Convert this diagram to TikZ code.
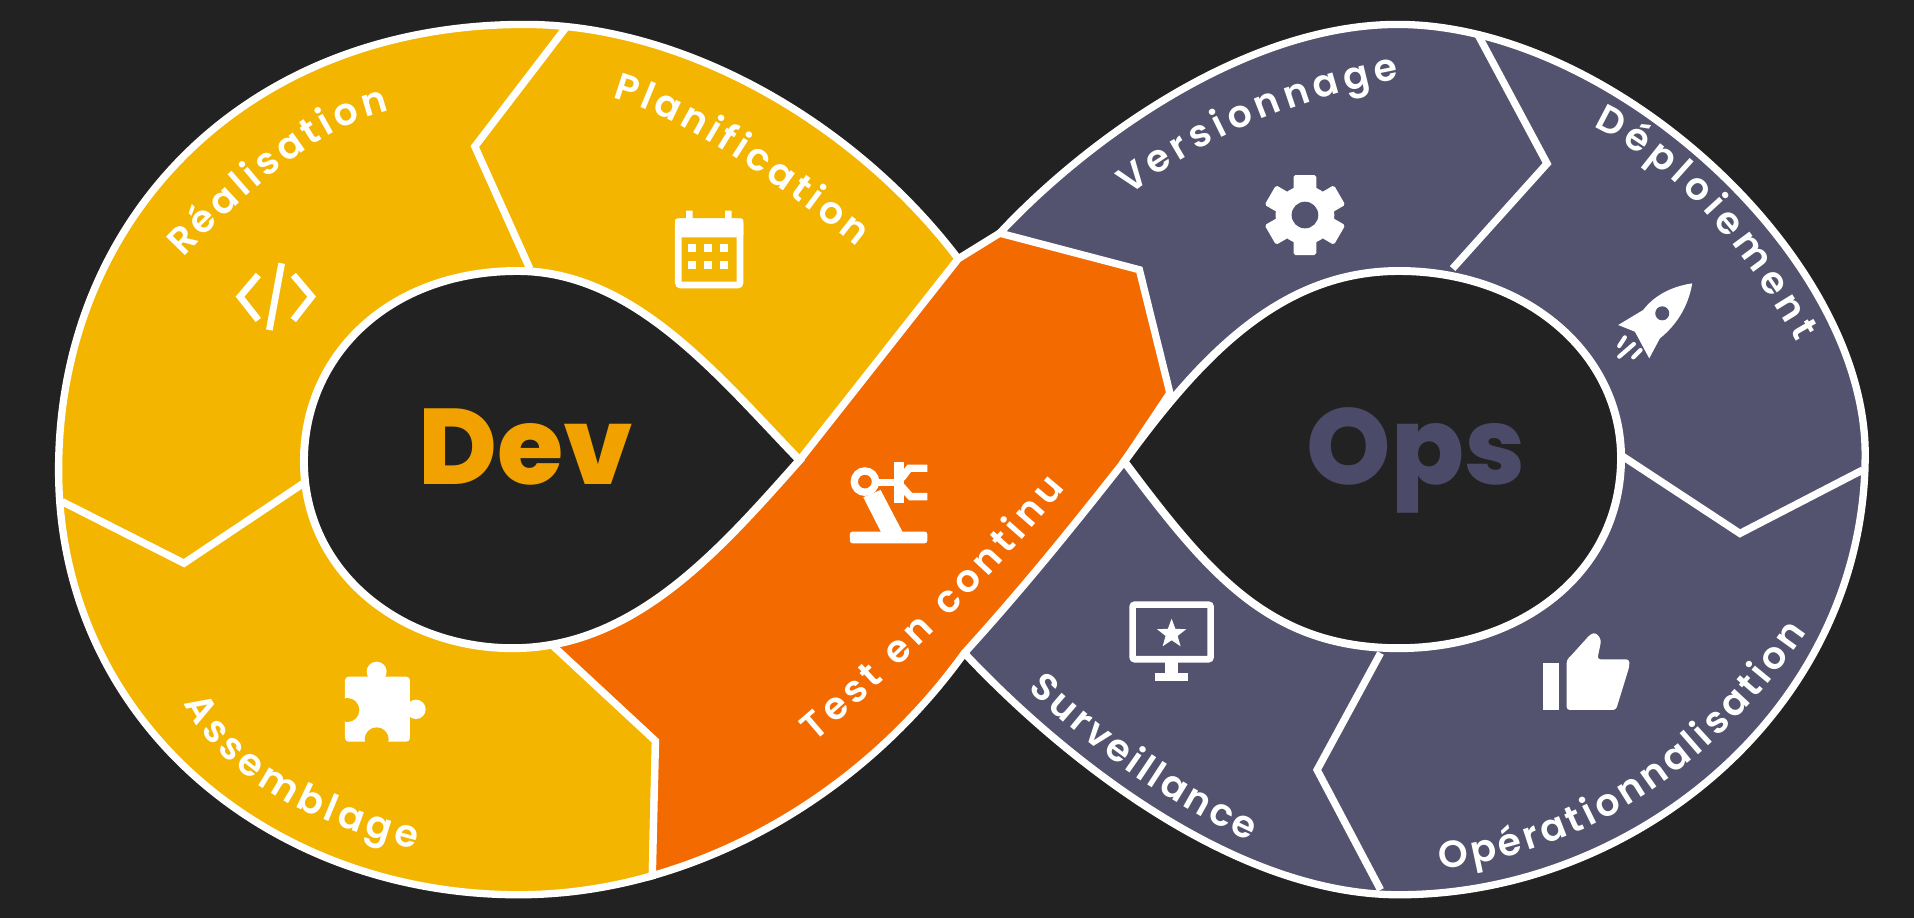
\documentclass[tikz,border=0pt]{standalone}
\usepackage{fontspec}
\usetikzlibrary{decorations.text,shapes.geometric,calc}
\setmainfont{Poppins}
\newfontfamily\labelfont{Poppins SemiBold}
\newfontfamily\heavyfont{Poppins ExtraBold}
\definecolor{bgdark}{HTML}{222222}
\definecolor{yel}{HTML}{F4B500}
\definecolor{org}{HTML}{F26A00}
\definecolor{slate}{HTML}{53526F}
\definecolor{devcol}{HTML}{F2A200}
\definecolor{opscol}{HTML}{4B4A69}
\tikzset{
  region/.style={draw=white,line width=6pt,line join=miter},
  divider/.style={draw=white,line width=6pt,line join=miter,line cap=butt},
  hole/.style={draw=white,line width=6.5pt,fill=bgdark,line join=miter},
  bigword/.style={font=\heavyfont\fontsize{88}{88}\selectfont,anchor=base,inner sep=0pt},
  iconstroke/.style={draw=white,line width=5.5pt},
  zoomed/.style={x=0.27307pt,y=-0.27307pt},
}
\newcommand{\curvelabel}[4]{%
  \coordinate (lp) at (#2); \coordinate (lm) at (#3); \coordinate (le) at (#4);
  \coordinate (lq) at ($2*(lm)-0.5*(lp)-0.5*(le)$);
  \path[decorate,decoration={text along path,text color=white,
    text={|\labelfont\fontsize{31}{31}\selectfont|#1},text align={fit to path}}]
    (lp) .. controls ($(lp)!0.6667!(lq)$) and ($(le)!0.6667!(lq)$) .. (le);}
\begin{document}
\begin{tikzpicture}[x=1pt,y=-1pt]
\useasboundingbox (0,0) rectangle (1568,752);
\fill[bgdark] (0,0) rectangle (1568,752);
% left lobe
\path[region,fill=yel] (785,212) .. controls (700,100) and (560,20) .. (430,20)
 .. controls (200,20) and (48,180) .. (48,385)
 .. controls (48,590) and (220,733) .. (425,733)
 .. controls (461.45,733) and (498.3,727.7) .. (534.4,717.4)
 -- (537,607) -- (640,450) -- cycle;
% right lobe
\path[region,fill=slate] (819,191) .. controls (890,115) and (1020,20) .. (1145,20)
 .. controls (1320,20) and (1528,210) .. (1528,372)
 .. controls (1528,580) and (1340,733) .. (1146,733)
 .. controls (1010,733) and (870,620) .. (790,535)
 -- (860,400) -- cycle;
% orange band
\path[region,fill=org] (785,212) -- (819,191) -- (933.4,221) -- (958.4,322) -- (921,378)
 .. controls (880,430) and (840,480) .. (790,535)
 .. controls (724.3,626.25) and (632,689.5) .. (534.4,717.4)
 -- (537,607) -- (454,530) -- (500,480) -- (600,400) -- (655,377) -- cycle;
% dividers
\draw[divider] (464,22) -- (389,120) -- (434,220);
\draw[divider] (51,411) -- (150.7,461.4) -- (248.5,396);
\draw[divider] (1210,27) -- (1267.4,134) -- (1190,220);
\draw[divider] (1329.6,374) -- (1425.4,437) -- (1526,385);
\draw[divider] (1131,535) -- (1079,630.7) -- (1131,729);
% holes
\path[hole] (655,377) .. controls (590,310) and (520,222) .. (424,222)
 .. controls (320,222) and (249,290) .. (249,378)
 .. controls (249,470) and (330,531) .. (420,531)
 .. controls (520,531) and (590,450) .. (655,377) -- cycle;
\path[hole] (921,378) .. controls (985,290) and (1050,222) .. (1146,222)
 .. controls (1250,222) and (1328,290) .. (1328,375)
 .. controls (1328,470) and (1245,531) .. (1146,531)
 .. controls (1040,531) and (990,470) .. (921,378) -- cycle;
% big words
\node[bigword,text=devcol] (dev) at (431,397) {Dev};
\node[bigword,text=opscol] (ops) at (1160,397) {Ops};
% curved labels
\curvelabel{Réalisation}{150,211}{243,128}{319,91}
\curvelabel{Planification}{502,80}{587,120}{702,202}
\curvelabel{Assemblage}{151,576}{218,647}{340,696}
\curvelabel{Test en continu}{667,608}{775,508}{873,400}
\curvelabel{Versionnage}{925,160}{1026,101}{1146,65}
\curvelabel{Déploiement}{1305,104}{1392,169}{1472,280}
\curvelabel{Surveillance}{842,565}{930,636}{1024,689}
\curvelabel{Opérationnalisation}{1180,712}{1345,653}{1480,518}
% code icon
\begin{scope}[shift={(172.03,204.8)},zoomed]
 \draw[iconstroke] (145,75) -- (90,140) -- (145,210);
 \draw[iconstroke] (215,40) -- (178,240);
 \draw[iconstroke] (250,75) -- (305,140) -- (250,210);
\end{scope}
% calendar
\begin{scope}[shift={(524.3,147.46)},zoomed]
 \draw[iconstroke,rounded corners=2pt] (115,125) rectangle (300,315);
 \fill[white,rounded corners=2pt] (105,115) rectangle (310,172);
 \fill[white] (138,92) rectangle (158,120) (255,92) rectangle (275,120);
 \foreach \dx in {157,205,253}\foreach \dy in {205,255}
   \fill[white] (\dx-12,\dy-12) rectangle (\dx+12,\dy+12);
\end{scope}
% puzzle
\begin{scope}[shift={(253.95,532.5)},zoomed]
 \fill[white,rounded corners=3pt] (105,80) rectangle (300,275);
 \fill[white] (200,65) circle[radius=30];
 \fill[white] (318,178) circle[radius=29];
 \fill[yel] (112,180) circle[radius=36];
 \fill[yel] (200,268) circle[radius=36];
\end{scope}
% robot
\begin{scope}[shift={(671.7,360.4)},zoomed]
 \fill[white,rounded corners=2pt] (90,275) rectangle (322,310);
 \fill[white] (130,172) -- (182,150) -- (250,280) -- (185,280) -- cycle;
 \draw[white,line width=6pt] (135,125) circle[radius=32];
 \draw[white,line width=6pt] (165,128) -- (235,128);
 \draw[white,line width=8pt] (238,65) -- (238,190);
 \draw[white,line width=6pt] (245,115) -- (268,85) -- (322,85);
 \draw[white,line width=6pt] (245,140) -- (272,170) -- (322,170);
\end{scope}
% gear
\begin{scope}[shift={(1015.8,131.1)},zoomed]
 \fill[white] (195,165) circle[radius=88];
 \foreach \a in {90,150,210,270,330,30}
   \fill[white,rounded corners=1.5pt,shift={(195,165)},rotate=-\a]
     (0,-34) rectangle (120,34);
 \fill[slate] (195,165) circle[radius=40];
\end{scope}
% rocket
\begin{scope}[shift={(1277.9,213)},zoomed]
 \fill[white] (397,70) .. controls (330,80) and (280,110) .. (250,150)
   -- (175,195) -- (225,215) -- (268,295) -- (300,235)
   .. controls (350,195) and (385,140) .. (397,70) -- cycle;
 \fill[slate] (307,160) circle[radius=21];
 \draw[white,line width=3.4pt,line cap=round] (195,232) -- (178,258);
 \draw[white,line width=3.4pt,line cap=round] (222,252) -- (178,290);
 \draw[white,line width=3.4pt,line cap=round] (242,270) -- (220,292);
\end{scope}
% monitor
\begin{scope}[shift={(901.1,483.3)},zoomed]
 \draw[iconstroke,rounded corners=2pt] (98,44) rectangle (332,208);
 \fill[white] (195,215) rectangle (235,250);
 \fill[white] (165,248) rectangle (265,272);
 \node[star,star points=5,star point ratio=2.4,fill=white,inner sep=0pt,minimum size=25pt] (starmark) at (215,132) {};
\end{scope}
% thumb
\begin{scope}[shift={(1237,507.9)},zoomed]
 \fill[white] (100,130) rectangle (148,270);
 \fill[white,rounded corners=2.5pt] (170,270) -- (170,120) -- (185,105) -- (242,42) -- (258,38) -- (274,60) -- (262,118)
   -- (358,118) -- (358,140) -- (318,270) -- cycle;
\end{scope}
\end{tikzpicture}
\end{document}
